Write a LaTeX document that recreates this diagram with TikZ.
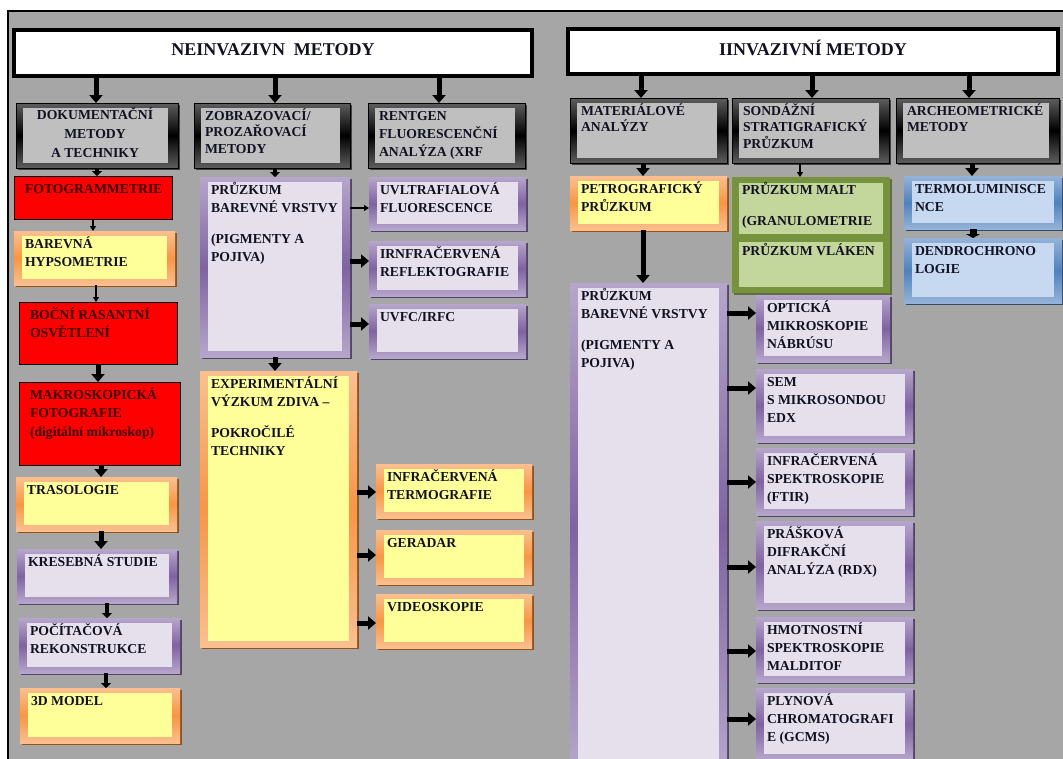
\documentclass[tikz,border=0pt]{standalone}
\usepackage{fontspec}
\setmainfont{Liberation Serif}
\usetikzlibrary{arrows.meta,shadows}
\definecolor{bg}{HTML}{A6A6A6}
\definecolor{purL}{HTML}{B6A6CB}
\definecolor{purD}{HTML}{7F63A1}
\definecolor{purI}{HTML}{E5E0EC}
\definecolor{purS}{HTML}{4B3A63}
\definecolor{orL}{HTML}{FAC090}
\definecolor{orD}{HTML}{F79646}
\definecolor{orI}{HTML}{FFFF99}
\definecolor{orS}{HTML}{974806}
\definecolor{bluL}{HTML}{95B3D7}
\definecolor{bluD}{HTML}{4F81BD}
\definecolor{bluI}{HTML}{C6D9F1}
\definecolor{bluS}{HTML}{244061}
\definecolor{grnF}{HTML}{76923C}
\definecolor{grnI}{HTML}{C3D69B}
\definecolor{grnS}{HTML}{4F6228}
\definecolor{grL}{HTML}{5E5E5E}
\definecolor{grI}{HTML}{BFBFBF}
\definecolor{ink}{HTML}{111122}
\definecolor{redink}{HTML}{3A0000}
\tikzset{
  boxframe/.style n args={4}{inner sep=0pt, outer sep=0pt,
    top color=#1, bottom color=#1, middle color=#2,
    drop shadow={shadow xshift=2pt, shadow yshift=-2pt, fill=#4, opacity=0.9},
    path picture={\fill[#3] ([xshift=8pt,yshift=-5pt]path picture bounding box.north west) rectangle ([xshift=-8pt,yshift=6pt]path picture bounding box.south east);}},
  purplebox/.style={boxframe={purL}{purD}{purI}{purS}},
  orangebox/.style={boxframe={orL}{orD}{orI}{orS}},
  bluebox/.style={boxframe={bluL}{bluD}{bluI}{bluS}},
  graybox/.style={inner sep=0pt, outer sep=0pt, draw=black, line width=0.8pt,
    top color=grL, bottom color=grL, middle color=black,
    drop shadow={shadow xshift=2pt, shadow yshift=-2pt, fill=black, opacity=0.6},
    path picture={\fill[grI] ([xshift=7pt,yshift=-5pt]path picture bounding box.north west) rectangle ([xshift=-10pt,yshift=5pt]path picture bounding box.south east);}},
  redbox/.style={fill=red, draw=black, line width=1pt, inner sep=0pt, outer sep=0pt},
  greenbox/.style={fill=grnF, inner sep=0pt, outer sep=0pt,
    drop shadow={shadow xshift=2pt, shadow yshift=-2pt, fill=grnS, opacity=0.8},
    path picture={\fill[grnI] ([xshift=7pt,yshift=-6pt]path picture bounding box.north west) rectangle ([xshift=-7pt,yshift=-57pt]path picture bounding box.north east);
      \fill[grnI] ([xshift=7pt,yshift=-65pt]path picture bounding box.north west) rectangle ([xshift=-7pt,yshift=6pt]path picture bounding box.south east);}},
  topbox/.style={fill=white, draw=black, line width=4.5pt, inner sep=0pt, outer sep=0pt},
  txt/.style={inner sep=0pt, outer sep=0pt, align=left, text=ink,
    font=\fontsize{13.7}{18}\selectfont\bfseries},
  gtxt/.style={txt, font=\fontsize{13.7}{16.5}\selectfont\bfseries},
  rtxt/.style={txt, text=redink, font=\fontsize{13.7}{18.5}\selectfont\bfseries},
  ttl/.style={inner sep=0pt, text=ink, font=\fontsize{18}{20}\selectfont\bfseries},
  ar/.style={-{Triangle[width=13pt,length=8pt]}, line width=5pt},
  arm/.style={-{Triangle[width=10pt,length=5pt]}, line width=3.5pt},
  art/.style={-{Triangle[width=6pt,length=5pt]}, line width=1.8pt},
  arw/.style={-{Triangle[width=14pt,length=4pt]}, line width=7pt},
}
% #1 text style opts, #2 name, #3 box style, #4 x, #5 y, #6 w, #7 h, #8 text
\newcommand\bx[8][txt]{%
  \node[#3, anchor=north west, minimum width=#6pt, minimum height=#7pt] (#2) at (#4,#5) {};
  \node[#1, anchor=north west] (#2-t) at ([xshift=11pt,yshift=-5pt]#2.north west) {\rule{0pt}{12pt}#8};
}
\begin{document}
\begin{tikzpicture}[x=1pt,y=-1pt]
\useasboundingbox (0,0) rectangle (1063,758);
\clip (0,0) rectangle (1063,758);
\fill[white] (0,0) rectangle (1063,758);
\draw[fill=bg, line width=2pt] (8,11) rectangle (1075,775);

% top boxes
\node[topbox, anchor=north west, minimum width=518pt, minimum height=46pt] (neinv) at (14,30) {};
\node[ttl, anchor=base] (neinv-t) at (neinv.north |- 0,55) {NEINVAZIVN\ \ METODY};
\node[topbox, anchor=north west, minimum width=490pt, minimum height=45pt] (inv) at (568,29) {};
\node[ttl, anchor=base] (inv-t) at (inv.north |- 0,55) {IINVAZIVNÍ METODY};

% level 2
\node[graybox, anchor=north west, minimum width=162pt, minimum height=65pt] (dok) at (16,103) {};
\node[txt, align=center, anchor=north, font=\fontsize{13.7}{19}\selectfont\bfseries] (dok-t) at ([xshift=-2pt,yshift=-4pt]dok.north) {\rule{0pt}{12pt}DOKUMENTAČNÍ\\METODY\\A TECHNIKY};
\bx[gtxt]{zob}{graybox}{194}{103}{156}{65}{ZOBRAZOVACÍ/\\PROZAŘOVACÍ\\METODY}
\bx[txt]{rent}{graybox}{368}{103}{157}{65}{RENTGEN\\FLUORESCENČNÍ\\ANALÝZA (XRF}
\bx[gtxt]{mat}{graybox}{570}{98}{157}{65}{MATERIÁLOVÉ\\ANALÝZY}
\bx[gtxt]{son}{graybox}{732}{98}{157}{65}{SONDÁŽNÍ\\STRATIGRAFICKÝ\\PRŮZKUM}
\bx[gtxt]{arch}{graybox}{896}{98}{163}{65}{ARCHEOMETRICKÉ\\METODY}

% left column
\bx[rtxt]{foto}{redbox}{14}{176}{158}{43}{FOTOGRAMMETRIE}
\bx{bar}{orangebox}{14}{231}{161}{54}{BAREVNÁ\\HYPSOMETRIE}
\bx[rtxt]{boc}{redbox}{19}{302}{158}{62}{BOČNÍ RASANTNÍ\\OSVĚTLENÍ}
\bx[rtxt]{mak}{redbox}{19}{382}{161}{83}{MAKROSKOPICKÁ\\FOTOGRAFIE\\(digitální mikroskop)}
\bx{tra}{orangebox}{16}{477}{161}{54}{TRASOLOGIE}
\bx{kre}{purplebox}{17}{549}{160}{54}{KRESEBNÁ STUDIE}
\bx{poc}{purplebox}{19}{618}{161}{55}{POČÍTAČOVÁ\\REKONSTRUKCE}
\bx{mod}{orangebox}{20}{688}{160}{55}{3D MODEL}

% second and third columns
\bx{prz1}{purplebox}{200}{177}{150}{180}{PRŮZKUM\\BAREVNÉ VRSTVY\\[13pt](PIGMENTY A\\POJIVA)}
\bx{exp}{orangebox}{200}{371}{157}{276}{EXPERIMENTÁLNÍ\\VÝZKUM ZDIVA –\\[13pt]POKROČILÉ\\TECHNIKY}
\bx{uv}{purplebox}{369}{177}{157}{53}{UVLTRAFIALOVÁ\\FLUORESCENCE}
\bx{irn}{purplebox}{369}{241}{157}{55}{IRNFRAČERVENÁ\\REFLEKTOGRAFIE}
\bx{uvfc}{purplebox}{369}{304}{157}{54}{UVFC/IRFC}
\bx{inf}{orangebox}{376}{464}{156}{54}{INFRAČERVENÁ\\TERMOGRAFIE}
\bx{ger}{orangebox}{376}{530}{156}{54}{GERADAR}
\bx{vid}{orangebox}{376}{594}{156}{54}{VIDEOSKOPIE}

% right part
\bx{petro}{orangebox}{570}{176}{157}{54}{PETROGRAFICKÝ\\PRŮZKUM}
\node[greenbox, anchor=north west, minimum width=158pt, minimum height=116pt] (malt) at (732,177) {};
\node[txt, anchor=north west] (malt-t) at ([xshift=10pt,yshift=-5pt]malt.north west) {\rule{0pt}{12pt}PRŮZKUM MALT\\[13pt](GRANULOMETRIE};
\node[txt, anchor=north west] (malt-t2) at ([xshift=10pt,yshift=-66pt]malt.north west) {\rule{0pt}{12pt}PRŮZKUM VLÁKEN};
\bx{termo}{bluebox}{904}{176}{158}{53}{TERMOLUMINISCE\\NCE}
\bx{dendro}{bluebox}{904}{238}{158}{65}{DENDROCHRONO\\LOGIE}
\bx{prz2}{purplebox}{570}{283}{157}{490}{PRŮZKUM\\BAREVNÉ VRSTVY\\[13pt](PIGMENTY A\\POJIVA)}
\bx{opt}{purplebox}{756}{295}{134}{67}{OPTICKÁ\\MIKROSKOPIE\\NÁBRÚSU}
\bx{sem}{purplebox}{756}{369}{157}{73}{SEM\\S MIKROSONDOU\\EDX}
\bx{ftir}{purplebox}{756}{448}{157}{67}{INFRAČERVENÁ\\SPEKTROSKOPIE\\(FTIR)}
\bx{rdx}{purplebox}{756}{521}{157}{88}{PRÁŠKOVÁ\\DIFRAKČNÍ\\ANALÝZA (RDX)}
\bx{mal}{purplebox}{756}{617}{157}{65}{HMOTNOSTNÍ\\SPEKTROSKOPIE\\MALDITOF}
\bx{gcms}{purplebox}{756}{688}{157}{72}{PLYNOVÁ\\CHROMATOGRAFI\\E (GCMS)}

% arrows
\draw[ar] (neinv.south -| 96,0) -- (dok.north -| 96,0);
\draw[ar] (neinv.south -| 275,0) -- (zob.north -| 275,0);
\draw[ar] (neinv.south -| 439,0) -- (rent.north -| 439,0);
\draw[ar] (inv.south -| 641,0) -- (mat.north -| 641,0);
\draw[ar] (inv.south -| 812,0) -- (son.north -| 812,0);
\draw[ar] (inv.south -| 969,0) -- (arch.north -| 969,0);

\draw[arm] (dok.south -| 97,0) -- (foto.north -| 97,0);
\draw[art] (foto.south -| 93,0) -- (bar.north -| 93,0);
\draw[art] (bar.south -| 96,0) -- (boc.north -| 96,0);
\draw[ar] (boc.south -| 98,0) -- (mak.north -| 98,0);
\draw[ar] (mak.south -| 101,0) -- (tra.north -| 101,0);
\draw[ar] (tra.south -| 101,0) -- (kre.north -| 101,0);
\draw[arm] (kre.south -| 107,0) -- (poc.north -| 107,0);
\draw[arm] (poc.south -| 106,0) -- (mod.north -| 106,0);

\draw[arm] (zob.south -| 275,0) -- (prz1.north -| 275,0);
\draw[ar] (prz1.south -| 275,0) -- (exp.north -| 275,0);
\draw[art] (prz1.east |- 0,208) -- (uv.west |- 0,208);
\draw[ar] (prz1.east |- 0,261) -- (irn.west |- 0,261);
\draw[ar] (prz1.east |- 0,324) -- (uvfc.west |- 0,324);
\draw[ar] (exp.east |- 0,492) -- (inf.west |- 0,492);
\draw[ar] (exp.east |- 0,555) -- (ger.west |- 0,555);
\draw[ar] (exp.east |- 0,623) -- (vid.west |- 0,623);

\draw[ar] (mat.south -| 643,0) -- (petro.north -| 643,0);
\draw[art] (son.south -| 800,0) -- (malt.north -| 800,0);
\draw[ar] (arch.south -| 972,0) -- (termo.north -| 972,0);
\draw[ar] (petro.south -| 643,0) -- (prz2.north -| 643,0);
\draw[arw] (termo.south -| 973,0) -- (dendro.north -| 973,0);
\draw[ar] (prz2.east |- 0,313) -- (opt.west |- 0,313);
\draw[ar] (prz2.east |- 0,388) -- (sem.west |- 0,388);
\draw[ar] (prz2.east |- 0,482) -- (ftir.west |- 0,482);
\draw[ar] (prz2.east |- 0,567) -- (rdx.west |- 0,567);
\draw[ar] (prz2.east |- 0,651) -- (mal.west |- 0,651);
\draw[ar] (prz2.east |- 0,719) -- (gcms.west |- 0,719);
\end{tikzpicture}
\end{document}
